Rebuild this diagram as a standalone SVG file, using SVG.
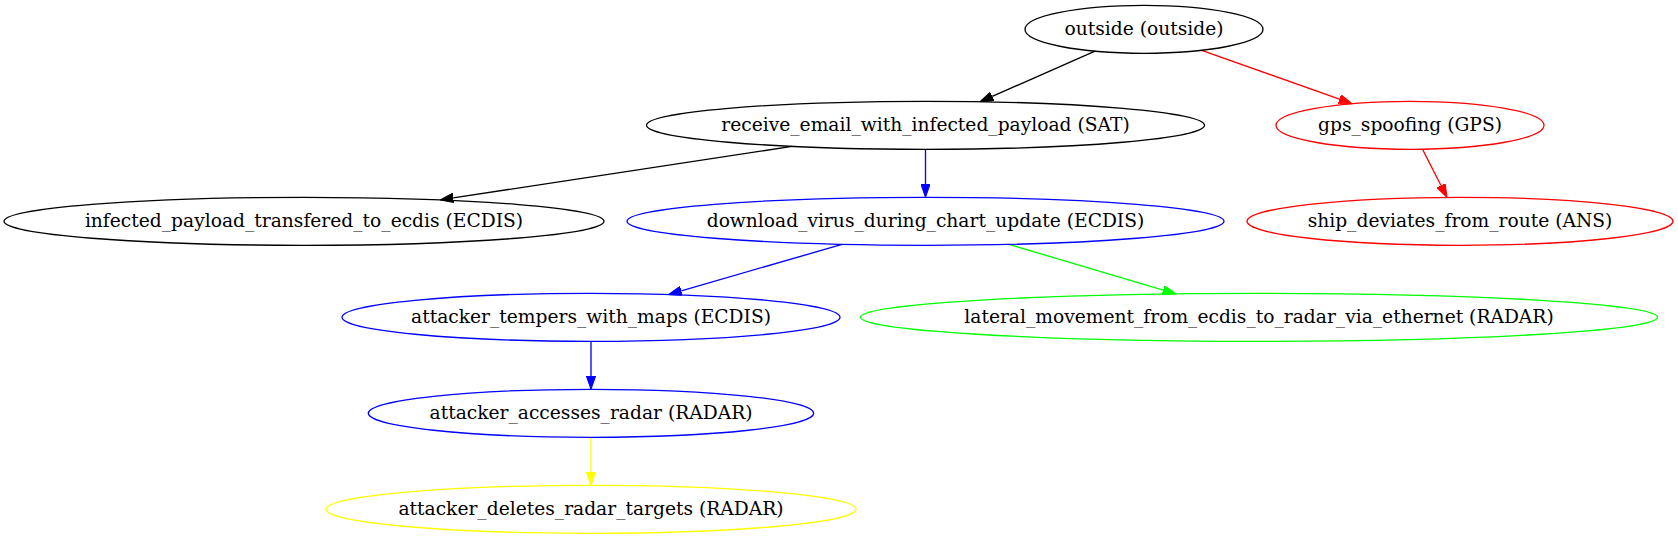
<svg xmlns="http://www.w3.org/2000/svg" width="1678" height="539" viewBox="0 0 1678 539">
<style>
.n ellipse{fill:none;stroke-width:1.33}
.n text{font-family:"DejaVu Serif",serif;font-size:18.67px;text-anchor:middle;fill:#000}
.e path{fill:none;stroke-width:1.33}
.k{stroke:#000}.r{stroke:#f00}.b{stroke:#00f}.g{stroke:#0f0}.y{stroke:#ff0}
</style>
<defs>
<marker id="ak" markerUnits="userSpaceOnUse" viewBox="0 0 13.33 9.33" refX="0" refY="4.67" markerWidth="13.33" markerHeight="9.33" orient="auto"><path d="M0,0L13.33,4.67L0,9.33z" fill="#000" stroke="#000" stroke-width="1"/></marker>
<marker id="ar" markerUnits="userSpaceOnUse" viewBox="0 0 13.33 9.33" refX="0" refY="4.67" markerWidth="13.33" markerHeight="9.33" orient="auto"><path d="M0,0L13.33,4.67L0,9.33z" fill="#f00" stroke="#f00" stroke-width="1"/></marker>
<marker id="ab" markerUnits="userSpaceOnUse" viewBox="0 0 13.33 9.33" refX="0" refY="4.67" markerWidth="13.33" markerHeight="9.33" orient="auto"><path d="M0,0L13.33,4.67L0,9.33z" fill="#00f" stroke="#00f" stroke-width="1"/></marker>
<marker id="ag" markerUnits="userSpaceOnUse" viewBox="0 0 13.33 9.33" refX="0" refY="4.67" markerWidth="13.33" markerHeight="9.33" orient="auto"><path d="M0,0L13.33,4.67L0,9.33z" fill="#0f0" stroke="#0f0" stroke-width="1"/></marker>
<marker id="ay" markerUnits="userSpaceOnUse" viewBox="0 0 13.33 9.33" refX="0" refY="4.67" markerWidth="13.33" markerHeight="9.33" orient="auto"><path d="M0,0L13.33,4.67L0,9.33z" fill="#ff0" stroke="#ff0" stroke-width="1"/></marker>
</defs>
<rect width="1678" height="539" fill="#fff"/>
<g id="edges" class="e">
<path class="k" d="M1095,51.2L992.2,96.4" marker-end="url(#ak)"/>
<path class="r" d="M1201.7,50.3L1339.4,99.2" marker-end="url(#ar)"/>
<path class="k" d="M792,146.4L453.2,197.9" marker-end="url(#ak)"/>
<path class="b" d="M925.5,149.3L925.5,184" marker-end="url(#ab)"/>
<path class="r" d="M1422.5,149.2L1441,185.5" marker-end="url(#ar)"/>
<path class="b" d="M842,244.4L681.3,290.8" marker-end="url(#ab)"/>
<path class="g" d="M1009,244.4L1163.2,290.1" marker-end="url(#ag)"/>
<path class="b" d="M591,341.3L591,376" marker-end="url(#ab)"/>
<path class="y" d="M591,437.3L591,472" marker-end="url(#ay)"/>
</g>
<g id="outside" class="n"><ellipse class="k" cx="1144" cy="29.3" rx="119" ry="24"/><text x="1144" y="34.9">outside (outside)</text></g>
<g id="receive_email_with_infected_payload" class="n"><ellipse class="k" cx="925.5" cy="125.3" rx="279" ry="24"/><text x="925.5" y="130.9">receive_email_with_infected_payload (SAT)</text></g>
<g id="gps_spoofing" class="n"><ellipse class="r" cx="1410" cy="125.3" rx="134" ry="24"/><text x="1410" y="130.9">gps_spoofing (GPS)</text></g>
<g id="infected_payload_transfered_to_ecdis" class="n"><ellipse class="k" cx="304" cy="221.3" rx="300" ry="24"/><text x="304" y="226.9">infected_payload_transfered_to_ecdis (ECDIS)</text></g>
<g id="download_virus_during_chart_update" class="n"><ellipse class="b" cx="925.5" cy="221.3" rx="298.5" ry="24"/><text x="925.5" y="226.9">download_virus_during_chart_update (ECDIS)</text></g>
<g id="ship_deviates_from_route" class="n"><ellipse class="r" cx="1460" cy="221.3" rx="213" ry="24"/><text x="1460" y="226.9">ship_deviates_from_route (ANS)</text></g>
<g id="attacker_tempers_with_maps" class="n"><ellipse class="b" cx="591" cy="317.3" rx="249" ry="24"/><text x="591" y="322.9">attacker_tempers_with_maps (ECDIS)</text></g>
<g id="lateral_movement_from_ecdis_to_radar_via_ethernet" class="n"><ellipse class="g" cx="1259" cy="317.3" rx="398.5" ry="24"/><text x="1259" y="322.9">lateral_movement_from_ecdis_to_radar_via_ethernet (RADAR)</text></g>
<g id="attacker_accesses_radar" class="n"><ellipse class="b" cx="591" cy="413.3" rx="222.7" ry="24"/><text x="591" y="418.9">attacker_accesses_radar (RADAR)</text></g>
<g id="attacker_deletes_radar_targets" class="n"><ellipse class="y" cx="591" cy="509.3" rx="265" ry="24"/><text x="591" y="514.9">attacker_deletes_radar_targets (RADAR)</text></g>
</svg>
